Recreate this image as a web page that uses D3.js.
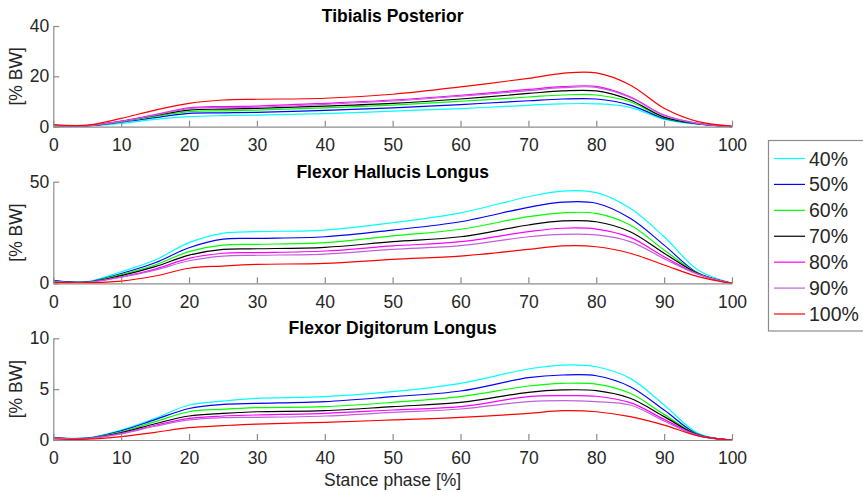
<!DOCTYPE html>
<html>
<head>
<meta charset="utf-8">
<script src="https://cdn.jsdelivr.net/npm/d3@7/dist/d3.min.js"></script>
<style>
  html, body { margin: 0; padding: 0; background: #fff; }
  svg { display: block; font-family: "Liberation Sans", Arial, Helvetica, sans-serif; }
</style>
</head>
<body>
<svg id="chart" width="863" height="493"></svg>
<script>
// Stance phase sample points [%]
const stance = [0, 5, 10, 15, 20, 25, 30, 40, 50, 60, 70, 75, 80, 85, 90, 95, 100];

// Load levels (legend entries)
const loadLevels = ["40%", "50%", "60%", "70%", "80%", "90%", "100%"];
const levelColors = ["#00ffff", "#0000ff", "#00ff00", "#000000", "#ff00ff", "#c060d8", "#ff0000"];

// Muscle forces [% BW], one row per load level
const tibialisPosterior = [
  [0.4, 0.3, 1.3, 2.9, 4.0, 4.4, 4.6, 5.2, 6.2, 7.2, 8.5, 9.1, 9.1, 7.7, 2.9, 1.0, 0],
  [0.5, 0.4, 1.8, 3.6, 5.3, 5.5, 5.7, 6.5, 7.5, 8.8, 10.3, 11.0, 11.0, 8.6, 3.3, 1.1, 0],
  [0.5, 0.4, 2.0, 4.1, 6.0, 6.3, 6.6, 7.5, 8.6, 10.1, 11.8, 12.6, 12.6, 9.9, 3.6, 1.2, 0],
  [0.5, 0.4, 2.1, 4.5, 6.6, 7.0, 7.3, 8.2, 9.3, 11.0, 13.2, 14.2, 14.2, 10.6, 3.8, 1.2, 0],
  [0.5, 0.4, 2.2, 4.8, 7.5, 8.0, 8.2, 9.3, 10.6, 12.5, 14.8, 15.9, 16.0, 11.9, 4.6, 1.3, 0],
  [0.5, 0.4, 2.1, 4.6, 7.2, 7.6, 7.7, 8.9, 10.2, 12.1, 14.3, 15.5, 15.6, 11.6, 4.4, 1.3, 0],
  [0.8, 0.6, 3.3, 6.6, 9.3, 10.6, 10.9, 11.3, 12.9, 15.8, 19.2, 21.2, 21.4, 16.6, 7.3, 2.0, 0.2]
];

const flexorHallucisLongus = [
  [1.5, 0.8, 5.7, 11.5, 20.0, 24.6, 25.4, 26.2, 29.8, 34.7, 42.6, 45.4, 44.6, 36.9, 22.9, 6.5, 0],
  [1.3, 0.7, 4.8, 10.1, 17.5, 21.7, 22.1, 22.9, 26.2, 30.3, 37.4, 39.9, 39.4, 32.0, 18.8, 5.0, 0],
  [1.2, 0.6, 4.3, 9.0, 15.6, 18.8, 19.2, 20.0, 23.3, 26.6, 32.8, 34.7, 34.4, 28.7, 16.4, 4.9, 0],
  [1.2, 0.6, 3.8, 8.2, 13.9, 16.7, 17.0, 17.7, 20.5, 22.9, 28.7, 30.7, 30.3, 25.4, 14.8, 4.8, 0],
  [1.0, 0.5, 3.2, 7.0, 12.3, 14.8, 15.1, 15.9, 18.4, 20.5, 25.4, 27.1, 26.7, 22.6, 13.1, 4.6, 0],
  [1.0, 0.5, 3.0, 6.5, 11.1, 13.4, 13.8, 14.4, 16.7, 18.5, 22.9, 24.1, 23.8, 20.5, 12.1, 4.4, 0],
  [0.5, 0.3, 1.1, 3.6, 7.4, 8.5, 9.3, 9.8, 11.8, 13.4, 16.7, 18.4, 18.0, 14.8, 9.0, 3.3, 0]
];

const flexorDigitorumLongus = [
  [0.25, 0.2, 0.98, 2.13, 3.44, 3.83, 4.1, 4.26, 4.75, 5.57, 6.98, 7.37, 7.2, 6.06, 3.44, 0.66, 0],
  [0.22, 0.18, 0.9, 2.0, 3.1, 3.5, 3.6, 3.77, 4.26, 4.82, 6.13, 6.39, 6.32, 5.24, 2.95, 0.55, 0],
  [0.2, 0.16, 0.8, 1.8, 2.78, 3.02, 3.18, 3.28, 3.7, 4.26, 5.31, 5.57, 5.5, 4.59, 2.52, 0.5, 0],
  [0.2, 0.15, 0.72, 1.6, 2.36, 2.62, 2.78, 2.88, 3.28, 3.7, 4.69, 4.92, 4.85, 4.1, 2.3, 0.48, 0],
  [0.18, 0.14, 0.65, 1.45, 2.13, 2.36, 2.46, 2.62, 2.95, 3.28, 4.26, 4.36, 4.3, 3.67, 2.03, 0.45, 0],
  [0.18, 0.14, 0.6, 1.35, 1.97, 2.2, 2.23, 2.36, 2.72, 3.05, 3.77, 3.87, 3.77, 3.44, 1.87, 0.43, 0],
  [0.1, 0.08, 0.33, 0.75, 1.21, 1.41, 1.57, 1.74, 1.97, 2.23, 2.62, 2.88, 2.78, 2.3, 1.47, 0.4, 0]
];

const panelTitles = ["Tibialis Posterior", "Flexor Hallucis Longus", "Flexor Digitorum Longus"];
const panelYMax = [40, 50, 10];
const panelYTicks = [[0, 20, 40], [0, 50], [0, 5, 10]];
const xTicks = [0, 10, 20, 30, 40, 50, 60, 70, 80, 90, 100];
const yLabel = "[% BW]";
const xLabel = "Stance phase [%]";

const panelData = [tibialisPosterior, flexorHallucisLongus, flexorDigitorumLongus];

// Layout
const plotLeft = 53.3, plotRight = 732;
const panelBox = [
  { top: 26, bottom: 126.7 },
  { top: 181.7, bottom: 283.3 },
  { top: 338.3, bottom: 440 }
];
const axisColor = "#8c8c8c";
const textColor = "#262626";
const tickFont = 17.5;

const svg = d3.select("#chart");
const x = d3.scaleLinear().domain([0, 100]).range([plotLeft, plotRight]);

panelData.forEach((rows, p) => {
  const box = panelBox[p];
  const y = d3.scaleLinear().domain([0, panelYMax[p]]).range([box.bottom, box.top]);
  const g = svg.append("g");

  // Curves, drawn from 40% to 100%
  const line = d3.line()
    .x((d, i) => x(stance[i]))
    .y(d => y(d))
    .curve(d3.curveCatmullRom.alpha(0.5));
  g.selectAll("path.series")
    .data(rows)
    .join("path")
    .attr("class", "series")
    .attr("d", line)
    .attr("fill", "none")
    .attr("stroke", (d, i) => levelColors[i])
    .attr("stroke-width", 1.2);

  // x axis (ticks pointing into the plot)
  const xAxis = d3.axisBottom(x).tickValues(xTicks).tickSizeInner(-6).tickSizeOuter(0).tickPadding(12);
  const gx = g.append("g").attr("transform", `translate(0,${box.bottom})`).call(xAxis);
  gx.select(".domain").attr("stroke", axisColor).attr("stroke-width", 1.2);
  gx.selectAll(".tick line").attr("stroke", axisColor).attr("stroke-width", 1.2);
  gx.selectAll(".tick text")
    .attr("fill", textColor).attr("font-size", tickFont)
    .attr("font-family", "Liberation Sans, Arial, sans-serif");

  // y axis
  const yAxis = d3.axisLeft(y).tickValues(panelYTicks[p]).tickSizeInner(-6).tickSizeOuter(0).tickPadding(4);
  const gy = g.append("g").attr("transform", `translate(${plotLeft},0)`).call(yAxis);
  gy.select(".domain").attr("stroke", axisColor).attr("stroke-width", 1.2);
  gy.selectAll(".tick line").attr("stroke", axisColor).attr("stroke-width", 1.2);
  gy.selectAll(".tick text")
    .attr("fill", textColor).attr("font-size", tickFont)
    .attr("font-family", "Liberation Sans, Arial, sans-serif");

  // Title
  g.append("text")
    .attr("x", (plotLeft + plotRight) / 2)
    .attr("y", box.top - 4)
    .attr("text-anchor", "middle")
    .attr("font-size", 17.5)
    .attr("font-weight", "bold")
    .attr("fill", "#000")
    .text(panelTitles[p]);

  // y label
  g.append("text")
    .attr("transform", `translate(22,${(box.top + box.bottom) / 2}) rotate(-90)`)
    .attr("text-anchor", "middle")
    .attr("font-size", 17.5)
    .attr("fill", textColor)
    .text(yLabel);
});

// x label
svg.append("text")
  .attr("x", (plotLeft + plotRight) / 2)
  .attr("y", 486)
  .attr("text-anchor", "middle")
  .attr("font-size", 17.5)
  .attr("fill", textColor)
  .text(xLabel);

// Legend
const legend = svg.append("g");
legend.append("rect")
  .attr("x", 768.5).attr("y", 140.5)
  .attr("width", 120).attr("height", 190.5)
  .attr("fill", "#fff")
  .attr("stroke", "#8c8c8c").attr("stroke-width", 1.2);
const rowY = d3.scalePoint().domain(loadLevels).range([158.5, 314]);
const item = legend.selectAll("g.item")
  .data(loadLevels)
  .join("g")
  .attr("class", "item")
  .attr("transform", d => `translate(0,${rowY(d)})`);
item.append("line")
  .attr("x1", 774).attr("x2", 805)
  .attr("stroke", (d, i) => levelColors[i])
  .attr("stroke-width", 1.2);
item.append("text")
  .attr("x", 809)
  .attr("dy", "0.36em")
  .attr("font-size", 19.5)
  .attr("fill", textColor)
  .text(d => d);
</script>
</body>
</html>
